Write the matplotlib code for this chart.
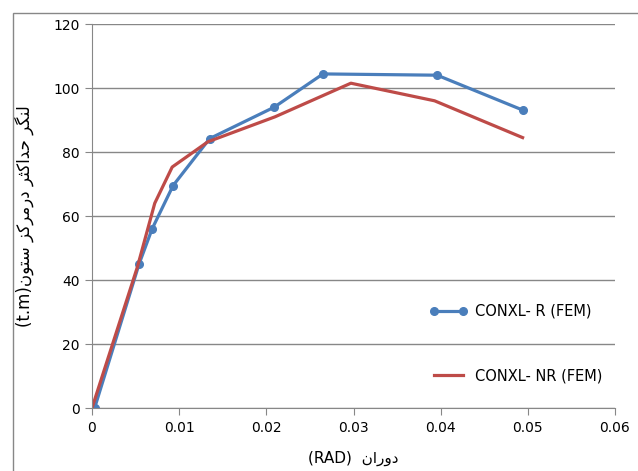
import matplotlib
matplotlib.use("Agg")
import matplotlib.pyplot as plt
from matplotlib.patches import Rectangle

# data
rot_r = [0.0003, 0.0054, 0.0069, 0.0093, 0.0135, 0.0209, 0.0265, 0.0396, 0.0495]
mom_r = [0, 45, 56, 69.5, 84.2, 94, 104.4, 104, 93]
rot_nr = [0, 0.0052, 0.0072, 0.0092, 0.0133, 0.021, 0.0297, 0.0393, 0.0494]
mom_nr = [0, 44, 64, 75.3, 83.2, 91, 101.5, 96, 84.5]
xticks = [0, 0.01, 0.02, 0.03, 0.04, 0.05, 0.06]
xlabels = ["0", "0.01", "0.02", "0.03", "0.04", "0.05", "0.06"]
yticks = [0, 20, 40, 60, 80, 100, 120]

# persian labels, pre-shaped in visual order (matplotlib has no bidi/shaping)
ylab = "(t.m)" + "\uFEE5\uFEEE\uFE98\uFEB3" + " " + "\uFEB0\uFB90\uFEAE\uFEE3\uFEAD\uFEA9" + " " + \
       "\uFEAE\uFE9C\uFB90\uFE8D\uFEAA\uFEA3" + " " + "\uFEAE\uFB95\uFEE8\uFEDF"
xlab = "(RAD)  " + "\uFEE5\uFE8D\uFEAD\uFEED\uFEA9"

blue = "#4A7EBB"
red = "#BE4B48"
grey = "#878787"

plt.rcParams['font.family'] = ['DejaVu Sans']
fig = plt.figure(figsize=(6.38, 4.71), dpi=100)
ax = fig.add_axes([92/638, 1-408/471, (615-92)/638, (408-24)/471])

# chart area border (cut off on the right and bottom in the original)
top = 1 - 13/471
fig.patches.append(Rectangle((13/638, -0.2), 1.2, top + 0.2,
                             transform=fig.transFigure, fill=False,
                             edgecolor=grey, lw=1))

ax.plot(rot_r, mom_r, color=blue, lw=2.3, marker='o', ms=5.5, label="CONXL- R (FEM)")
ax.plot(rot_nr, mom_nr, color=red, lw=2.3, label="CONXL- NR (FEM)")

ax.set_xlim(0, 0.06)
ax.set_ylim(0, 120)
ax.set_xticks(xticks)
ax.set_xticklabels(xlabels)
ax.set_yticks(yticks)
ax.tick_params(direction='out', length=5, color=grey, labelsize=10, pad=4)
ax.grid(axis='y', color=grey, lw=1)
ax.set_axisbelow(True)
for s in ['top', 'right']:
    ax.spines[s].set_visible(False)
for s in ['left', 'bottom']:
    ax.spines[s].set_color(grey)

ax.set_xlabel(xlab, fontsize=11, labelpad=12)
ax.set_ylabel(ylab, fontsize=12, labelpad=14)

ax.legend(loc='center left', bbox_to_anchor=(0.62, 0.168), frameon=False,
          fontsize=10.5, labelspacing=3.4, handlelength=2.6, handletextpad=0.5,
          numpoints=2)

fig.savefig("out.png", dpi=100)
